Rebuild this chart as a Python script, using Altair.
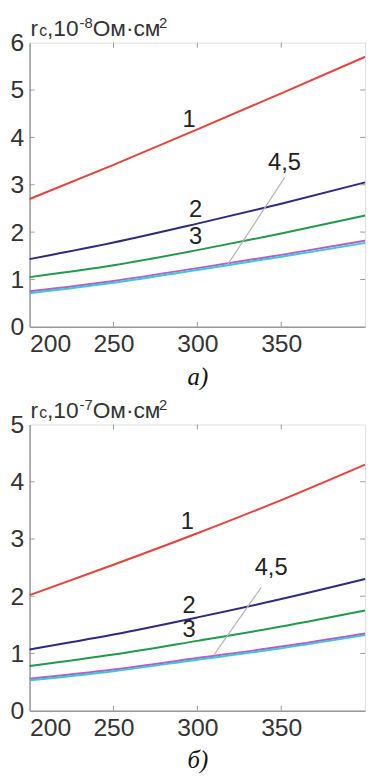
import altair as alt
import pandas as pd

# ---- data ----
X = [200, 250, 300, 350, 400]
# panel a) units 1e-8 Ohm*cm^2
A1 = [2.70, 3.42, 4.17, 4.93, 5.70]
A2 = [1.43, 1.78, 2.18, 2.60, 3.05]
A3 = [1.05, 1.30, 1.62, 1.97, 2.35]
A4 = [0.75, 0.97, 1.24, 1.52, 1.82]
A5 = [0.71, 0.93, 1.20, 1.48, 1.77]
# panel б) units 1e-7 Ohm*cm^2
B1 = [2.02, 2.55, 3.10, 3.68, 4.30]
B2 = [1.07, 1.33, 1.63, 1.95, 2.30]
B3 = [0.78, 0.98, 1.22, 1.47, 1.75]
B4 = [0.56, 0.72, 0.92, 1.12, 1.35]
B5 = [0.53, 0.69, 0.89, 1.09, 1.32]

SERIES = ["1", "2", "3", "4", "5"]
COLORS = ["#e5423b", "#2e2b7c", "#22994c", "#b85cc0", "#3cc6dc"]

A_LABELS = ["1", "2", "3", "4,5"]
A_LAB_X = [295, 299, 299, 352]
A_LAB_Y = [4.37, 2.46, 1.90, 3.46]
A_LEAD_X = [318, 352]
A_LEAD_Y = [1.31, 3.15]

B_LABELS = ["1", "2", "3", "4,5"]
B_LAB_X = [294, 295, 295, 344]
B_LAB_Y = [3.30, 1.83, 1.40, 2.50]
B_LEAD_X = [310, 338]
B_LEAD_Y = [0.98, 2.15]

X_TICKS = [200, 250, 300, 350]
INNER_X_TICKS = [250, 300, 350]

# y-axis title pieces: text, role (main / sub / sup)
TITLE_A = ["r", "c", ",10", "-8", "Ом·см", "2"]
TITLE_B = ["r", "c", ",10", "-7", "Ом·см", "2"]
TITLE_ROLE = ["main", "sub", "main", "sup", "main", "sup"]

W = 340
FONT = "Liberation Sans"
BASE, SMALL = 23, 15
# approximate advance widths (em) of Liberation Sans glyphs
ADV = {"r": 0.333, "c": 0.5, ",": 0.278, "1": 0.556, "0": 0.556, "-": 0.333,
       "8": 0.556, "7": 0.556, "2": 0.556, "О": 0.778, "м": 0.66, "·": 0.278, "с": 0.5}


def title_layer(pieces):
    rows, x = [], 1.0
    for t, role in zip(pieces, TITLE_ROLE):
        fs = BASE if role == "main" else (16 if role == "sub" else SMALL)
        y = -7 if role != "sup" else -15
        rows.append({"t": t, "px": x, "py": y, "fs": fs})
        x += sum(ADV.get(ch, 0.55) for ch in t) * fs + (1 if role == "main" else 0)
    return alt.Chart(pd.DataFrame(rows)).mark_text(
        font=FONT, color="#333", align="left", baseline="alphabetic").encode(
        x=alt.X("px:Q", scale=None), y=alt.Y("py:Q", scale=None),
        size=alt.Size("fs:Q", scale=None, legend=None), text="t:N")


def panel(curves, lab_text, lab_x, lab_y, lead_x, lead_y, ymax, tpieces, caption, H):
    rows = []
    for s, vals in zip(SERIES, curves):
        for xv, yv in zip(X, vals):
            rows.append({"x": xv, "y": yv, "s": s})
    df = pd.DataFrame(rows)

    xs = alt.Scale(domain=[200, 400], nice=False, zero=False)
    ys = alt.Scale(domain=[0, ymax], nice=False)

    xax = alt.Axis(values=X_TICKS, ticks=False, grid=False, labelFont=FONT,
                   labelFontSize=25, labelColor="#333", labelPadding=5,
                   domainColor="#999", domainWidth=1.5,
                   title=caption, titleFont="Liberation Serif",
                   titleFontStyle="italic", titleFontWeight="normal",
                   titleFontSize=25, titleColor="#111", titlePadding=8)
    yax = alt.Axis(values=list(range(0, ymax + 1)), format="d", ticks=False, grid=False,
                   labelFont=FONT, labelFontSize=25, labelColor="#333",
                   labelPadding=6, domainColor="#999", domainWidth=1.5, title="")

    lines = alt.Chart(df).mark_line(strokeWidth=2, interpolate="monotone").encode(
        x=alt.X("x:Q", scale=xs, axis=xax),
        y=alt.Y("y:Q", scale=ys, axis=yax),
        color=alt.Color("s:N", scale=alt.Scale(domain=SERIES, range=COLORS), legend=None),
        detail="s:N",
    )

    lead = alt.Chart(pd.DataFrame({"x": lead_x, "y": lead_y})).mark_line(
        color="#b5b5b5", strokeWidth=1.2).encode(x=alt.X("x:Q", scale=xs), y=alt.Y("y:Q", scale=ys))

    labels = alt.Chart(pd.DataFrame({"x": lab_x, "y": lab_y, "t": lab_text})).mark_text(
        font=FONT, fontSize=24, color="#222", baseline="middle", align="center").encode(
        x=alt.X("x:Q", scale=xs), y=alt.Y("y:Q", scale=ys), text="t:N")

    tdf = pd.DataFrame({"x": INNER_X_TICKS})
    tick_b = alt.Chart(tdf).mark_rule(color="#999", strokeWidth=1).encode(
        x=alt.X("x:Q", scale=xs), y=alt.value(H), y2=alt.value(H - 5))
    tick_t = alt.Chart(tdf).mark_rule(color="#999", strokeWidth=1).encode(
        x=alt.X("x:Q", scale=xs), y=alt.value(0), y2=alt.value(5))
    ydf = pd.DataFrame({"y": list(range(1, ymax))})
    tick_r = alt.Chart(ydf).mark_rule(color="#999", strokeWidth=1).encode(
        y=alt.Y("y:Q", scale=ys), x=alt.value(W - 5), x2=alt.value(W))
    tick_l = alt.Chart(ydf).mark_rule(color="#999", strokeWidth=1).encode(
        y=alt.Y("y:Q", scale=ys), x=alt.value(0), x2=alt.value(5))

    return alt.layer(lines, lead, labels, tick_b, tick_t, tick_r, tick_l,
                     title_layer(tpieces)).properties(width=W, height=H)


top = panel([A1, A2, A3, A4, A5], A_LABELS, A_LAB_X, A_LAB_Y, A_LEAD_X, A_LEAD_Y,
            6, TITLE_A, "а)", 288)
bot = panel([B1, B2, B3, B4, B5], B_LABELS, B_LAB_X, B_LAB_Y, B_LEAD_X, B_LEAD_Y,
            5, TITLE_B, "б)", 290)

chart = alt.vconcat(top, bot, spacing=7).properties(
    padding={"left": 9, "top": 10, "right": 2, "bottom": 0}
).configure_view(stroke="#999", strokeWidth=1.5).configure(background="white")

chart.save("out.html", embed_options={"renderer": "svg", "actions": False})
